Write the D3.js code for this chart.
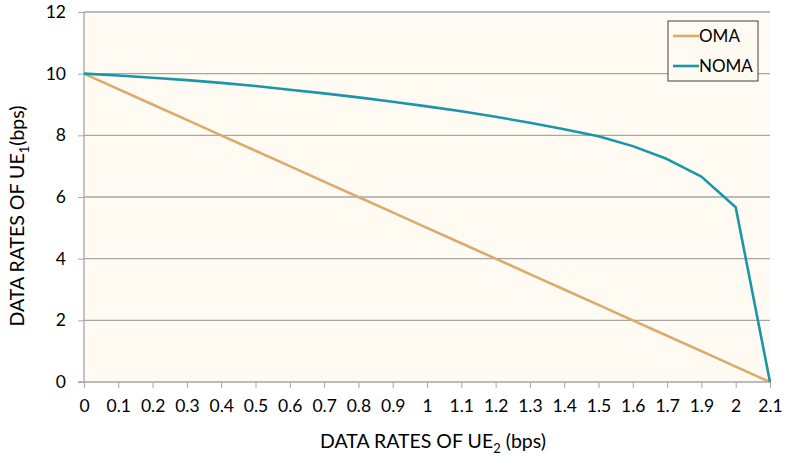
<!DOCTYPE html>
<html><head><meta charset="utf-8">
<script src="https://cdn.jsdelivr.net/npm/d3@7"></script>
<style>body{margin:0;background:#fff}svg text{font-family:Lato,"Open Sans",sans-serif;fill:#000}</style>
</head><body><svg id="c" width="785" height="456"></svg>
<script>
const categories = ["0","0.1","0.2","0.3","0.4","0.5","0.6","0.7","0.8","0.9","1","1.1","1.2","1.3","1.4","1.5","1.6","1.7","1.9","2","2.1"];
const omaValues = [10,9.5,9,8.5,8,7.5,7,6.5,6,5.5,5,4.5,4,3.5,3,2.5,2,1.5,1,0.5,0];
const nomaValues = [10,9.94,9.87,9.79,9.7,9.6,9.48,9.36,9.23,9.09,8.94,8.78,8.6,8.41,8.2,7.97,7.65,7.23,6.66,5.67,0];
const yTicks = [0,2,4,6,8,10,12];
const seriesNames = ["OMA","NOMA"];
const colors = ["#dbab6c","#1996a8"];

const svg = d3.select("#c");
const L=84,R=770,T=12,B=382;
const x = d3.scalePoint().domain(categories).range([L,R]);
const y = d3.scaleLinear().domain([0,12]).range([B,T]);

svg.append("rect").attr("x",L).attr("y",T).attr("width",R-L).attr("height",B-T).attr("fill","#fffbf2");
svg.append("g").selectAll("line").data(yTicks.filter(d=>d>0)).join("line")
  .attr("x1",L).attr("x2",R).attr("y1",d=>y(d)).attr("y2",d=>y(d))
  .attr("stroke","#a6a6a6").attr("stroke-width",1.3);

const ya = svg.append("g").attr("transform",`translate(${L},0)`)
  .call(d3.axisLeft(y).tickValues(yTicks).tickSize(6).tickPadding(12).tickFormat(d3.format("d")));
ya.select(".domain").attr("stroke","#a6a6a6").attr("stroke-width",1.3).attr("d",`M-6,${B}H0V${T}`);
ya.selectAll(".tick line").attr("stroke","#a6a6a6");
ya.selectAll("text").attr("font-size",17.5).style("font-family","Lato, sans-serif");

const xa = svg.append("g").attr("transform",`translate(0,${B})`)
  .call(d3.axisBottom(x).tickSize(6).tickPadding(12));
xa.select(".domain").attr("stroke","#a6a6a6").attr("stroke-width",1.3).attr("d",`M${L},0H${R}`);
xa.selectAll(".tick line").attr("stroke","#a6a6a6");
xa.selectAll("text").attr("font-size",17.5).style("font-family","Lato, sans-serif");

const line = d3.line().x((d,i)=>x(categories[i])).y(d=>y(d));
[omaValues,nomaValues].forEach((vals,k)=>{
  svg.append("path").datum(vals).attr("d",line).attr("fill","none")
    .attr("stroke",colors[k]).attr("stroke-width",2.6).attr("stroke-linejoin","round");
});

// legend
const lg = svg.append("g");
lg.append("rect").attr("x",668).attr("y",21).attr("width",90).attr("height",60)
  .attr("fill","#fffbf2").attr("stroke","#404040").attr("stroke-width",1);
seriesNames.forEach((n,i)=>{
  const yy = 36 + i*30;
  lg.append("line").attr("x1",673).attr("x2",699).attr("y1",yy).attr("y2",yy)
    .attr("stroke",colors[i]).attr("stroke-width",2.6);
  lg.append("text").attr("x",699).attr("y",yy+6).attr("font-size",17).text(n);
});

// axis titles
const xt = svg.append("text").attr("x",433).attr("y",448).attr("text-anchor","middle").attr("font-size",19.5);
xt.append("tspan").text("DATA RATES OF UE");
xt.append("tspan").attr("font-size",13).attr("dy",5).text("2");
xt.append("tspan").attr("dy",-5).text(" (bps)");

const yt = svg.append("text").attr("transform","translate(24,216) rotate(-90)").attr("text-anchor","middle").attr("font-size",19.5);
yt.append("tspan").text("DATA RATES OF UE");
yt.append("tspan").attr("font-size",13).attr("dy",5).text("1");
yt.append("tspan").attr("dy",-5).text("(bps)");
</script></body></html>
